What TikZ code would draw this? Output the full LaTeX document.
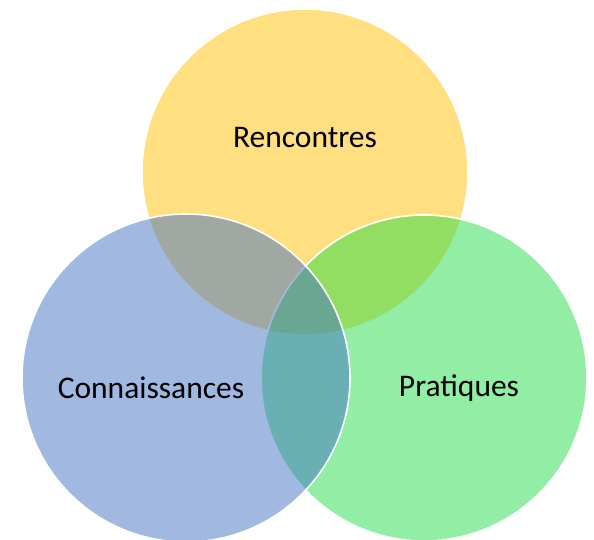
\documentclass[tikz,border=0pt]{standalone}
\usepackage{fontspec}
\setmainfont{Carlito}
\definecolor{cgold}{HTML}{FFC000}
\definecolor{cgreen}{HTML}{25DD49}
\definecolor{cblue}{HTML}{4472C4}
\tikzset{
  venn/.style={circle, inner sep=0pt, outer sep=0pt, minimum size=326pt, draw=white, line width=1.6pt, fill opacity=0.5},
  lbl/.style={font=\fontsize{31.5}{36}\selectfont, text=black, inner sep=0pt}
}
\begin{document}
\begin{tikzpicture}[x=1pt,y=-1pt]
\useasboundingbox (0,0) rectangle (594,539);
\clip (0,0) rectangle (594,539);
\node[venn, fill=cgold] (top) at (305,172) {};
\node[venn, fill=cgreen] (right) at (424,378) {};
\node[venn, fill=cblue, minimum size=328pt] (left) at (186,378) {};
\node[lbl] (t1) at (305,138) {Rencontres};
\node[lbl] (t2) at (151,388) {Connaissances};
\node[lbl] (t3) at (459,388) {Pratiques};
\end{tikzpicture}
\end{document}
